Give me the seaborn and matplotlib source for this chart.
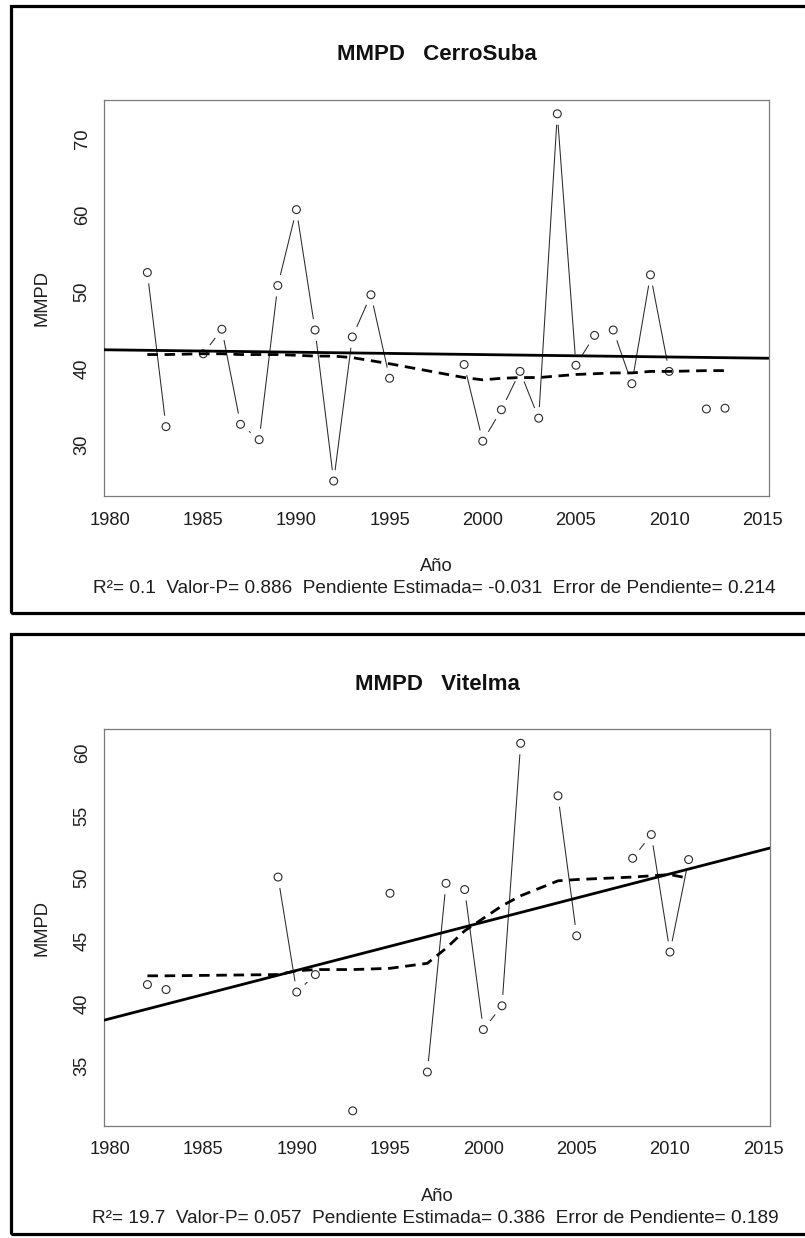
import numpy as np
import pandas as pd
import matplotlib
matplotlib.use("Agg")
import matplotlib.pyplot as plt
from matplotlib.patches import Rectangle
import seaborn as sns

# ---- CerroSuba station -------------------------------------------------
cs_years = [1982, 1983, 1985, 1986, 1987, 1988, 1989, 1990, 1991, 1992, 1993,
            1994, 1995, 1999, 2000, 2001, 2002, 2003, 2004, 2005, 2006, 2007,
            2008, 2009, 2010, 2012, 2013]
cs_mmpd = [52.5, 32.4, 41.9, 45.1, 32.7, 30.7, 50.8, 60.7, 45.0, 25.3, 44.1,
           49.6, 38.7, 40.5, 30.5, 34.6, 39.6, 33.5, 73.2, 40.4, 44.3, 45.0,
           38.0, 52.2, 39.6, 34.7, 34.8]
cs_smooth = [41.8, 41.8, 41.9, 41.9, 41.8, 41.8, 41.8, 41.7, 41.6, 41.6, 41.4,
             41.0, 40.6, 38.8, 38.5, 38.7, 38.8, 38.8, 39.0, 39.2, 39.3, 39.4,
             39.4, 39.6, 39.6, 39.7, 39.7]
cs_r2, cs_p, cs_slope, cs_err = "0.1", "0.886", -0.031, "0.214"
cs_level = 41.87          # fitted trend value at the centre year
cs_yticks = [30, 40, 50, 60, 70]
cs_ylim = (23.35, 75.0)

# ---- Vitelma station ---------------------------------------------------
vi_years = [1982, 1983, 1989, 1990, 1991, 1993, 1995, 1997, 1998, 1999, 2000,
            2001, 2002, 2004, 2005, 2008, 2009, 2010, 2011]
vi_mmpd = [41.5, 41.1, 50.1, 40.9, 42.3, 31.4, 48.8, 34.5, 49.6, 49.1, 37.9,
           39.8, 60.8, 56.6, 45.4, 51.6, 53.5, 44.1, 51.5]
vi_smooth = [42.2, 42.2, 42.3, 42.6, 42.7, 42.7, 42.8, 43.2, 44.4, 45.8, 46.8,
             47.8, 48.6, 49.8, 49.9, 50.1, 50.2, 50.3, 50.0]
vi_r2, vi_p, vi_slope, vi_err = "19.7", "0.057", 0.386, "0.189"
vi_level = 45.53
vi_yticks = [35, 40, 45, 50, 55, 60]
vi_ylim = (30.21, 61.92)

x_ticks = [1980, 1985, 1990, 1995, 2000, 2005, 2010, 2015]
x_lim = (1979.69, 2015.36)
centre_year = 1997.5

sns.set_style("white")
plt.rcParams["font.family"] = ["Liberation Sans", "DejaVu Sans"]

W, H = 805, 1238
fig = plt.figure(figsize=(W / 100, H / 100), dpi=100)
fig.patch.set_facecolor("white")


def fx(px):
    return px / W


def fy(py):
    return 1 - py / H


def panel(box, frame, name, years, values, smooth, slope, level,
          r2, p, err, yticks, ylim):
    left, top, right, bottom = box
    ax = fig.add_axes([fx(left), fy(bottom), fx(right - left), (bottom - top) / H])

    df = pd.DataFrame({"Año": years, "MMPD": values, "suave": smooth})
    df["tramo"] = (df["Año"].diff() != 1).cumsum()

    # observed series, broken at missing years
    sns.lineplot(data=df, x="Año", y="MMPD", units="tramo", estimator=None,
                 color="#2a2a2a", lw=0.75, zorder=1, ax=ax)
    # white gap around each point, then the open circles
    sns.scatterplot(data=df, x="Año", y="MMPD", s=250, color="white",
                    edgecolor="none", linewidth=0, zorder=1.5, ax=ax)
    sns.scatterplot(data=df, x="Año", y="MMPD", s=32, color="#2a2a2a",
                    edgecolor="#2a2a2a", linewidth=0.8, zorder=2, ax=ax)
    ax.collections[-1].set_facecolor("none")

    # linear trend
    xl = np.array(x_lim)
    trend = pd.DataFrame({"Año": xl, "ajuste": level + slope * (xl - centre_year)})
    sns.lineplot(data=trend, x="Año", y="ajuste", color="black", lw=2.0,
                 zorder=3, ax=ax)
    # smoothed curve
    sns.lineplot(data=df, x="Año", y="suave", color="black", lw=2.0,
                 linestyle=(0, (3.8, 2.4)), zorder=3, ax=ax)

    ax.set_xlim(*x_lim)
    ax.set_ylim(*ylim)
    ax.set_xticks(x_ticks)
    ax.set_yticks(yticks)
    ax.set_xlabel("")
    ax.set_ylabel("")
    for s in ax.spines.values():
        s.set_color("#7a7a7a")
        s.set_linewidth(0.9)
    ax.tick_params(axis="both", direction="out", length=6.7, width=0.9,
                   color="#7a7a7a", labelsize=13.2, labelcolor="#1e1e1e")
    ax.tick_params(axis="x", pad=4.5)
    ax.tick_params(axis="y", pad=3, labelrotation=90)
    for lab in ax.get_yticklabels():
        lab.set_verticalalignment("center")

    cx = (left + right) / 2
    fig.text(fx(cx), fy(top - 45), f"MMPD   {name}", ha="center", va="center",
             fontsize=16, fontweight="bold", color="#111111")
    fig.text(fx(42), fy((top + bottom) / 2), "MMPD", rotation=90, ha="center",
             va="center", fontsize=13.2, color="#1e1e1e")
    fig.text(fx(cx), fy(bottom + 70.7), "Año", ha="center", va="center",
             fontsize=13.2, color="#1e1e1e")
    stats = (f"R²= {r2}  Valor-P= {p}  Pendiente Estimada= {slope}  "
             f"Error de Pendiente= {err}")
    fig.text(fx(cx - 2), fy(bottom + 93), stats, ha="center", va="center",
             fontsize=13.65, color="#1e1e1e")

    fl, ft, fr, fb = frame
    fig.patches.append(Rectangle((fx(fl), fy(fb)), fx(fr - fl), (fb - ft) / H,
                                 transform=fig.transFigure, fill=False,
                                 ec="black", lw=2.3))
    return ax


panel((104.3, 100, 769, 496), (11, 6, 812, 613), "CerroSuba",
      cs_years, cs_mmpd, cs_smooth, cs_slope, cs_level,
      cs_r2, cs_p, cs_err, cs_yticks, cs_ylim)
panel((104.3, 729.3, 770, 1125.7), (11, 634, 812, 1234), "Vitelma",
      vi_years, vi_mmpd, vi_smooth, vi_slope, vi_level,
      vi_r2, vi_p, vi_err, vi_yticks, vi_ylim)

fig.savefig("out.png", dpi=100, facecolor="white")
